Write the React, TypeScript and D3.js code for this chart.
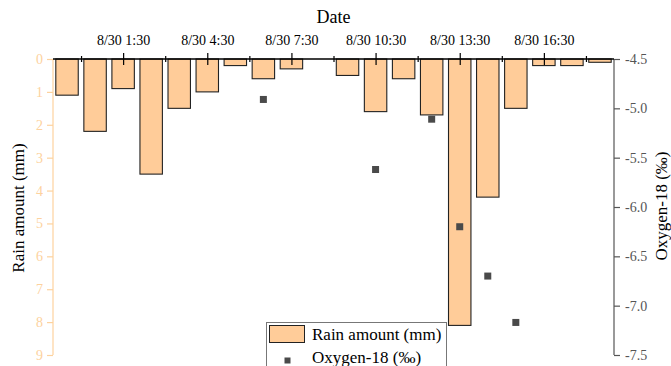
import * as React from 'react'
import {select, scaleLinear, scaleTime, axisTop, axisLeft, axisRight, timeFormat, timeParse, range} from 'd3'

const {Component, createRef} = React

// rain per hour, bars centred on the half hour
const rainTimes = [
  '8/29 23:30', '8/30 0:30', '8/30 1:30', '8/30 2:30', '8/30 3:30',
  '8/30 4:30', '8/30 5:30', '8/30 6:30', '8/30 7:30', '8/30 8:30',
  '8/30 9:30', '8/30 10:30', '8/30 11:30', '8/30 12:30', '8/30 13:30',
  '8/30 14:30', '8/30 15:30', '8/30 16:30', '8/30 17:30', '8/30 18:30',
]
const rainAmount = [1.1, 2.2, 0.9, 3.5, 1.5, 1.0, 0.2, 0.6, 0.3, 0, 0.5, 1.6, 0.6, 1.7, 8.1, 4.2, 1.5, 0.2, 0.2, 0.1]

const oxygenTimes = ['8/30 6:30', '8/30 10:30', '8/30 12:30', '8/30 13:30', '8/30 14:30', '8/30 15:30']
const oxygen18 = [-4.91, -5.62, -5.11, -6.2, -6.7, -7.17]

const xDomain = ['8/29 23:00', '8/30 19:00']
const labelTicks = ['8/30 1:30', '8/30 4:30', '8/30 7:30', '8/30 10:30', '8/30 13:30', '8/30 16:30']
const minorTicks = ['8/30 0:00', '8/30 3:00', '8/30 6:00', '8/30 9:00', '8/30 12:00', '8/30 15:00', '8/30 18:00']
const rainTicks = [0, 1, 2, 3, 4, 5, 6, 7, 8, 9]
const oxygenTicks = [-4.5, -5.0, -5.5, -6.0, -6.5, -7.0, -7.5]

const parse = (s: string) => timeParse('%Y/%m/%d %H:%M')('2000/' + s) as Date
const fmt = timeFormat('%-m/%-d %-H:%M')

const BAR = '#FFCC99'
const PALE = '#FDD29E'
const GREY = '#555555'
const FONT = '"Liberation Serif", "Times New Roman", serif'

class App extends Component {
  ref = createRef<HTMLDivElement>()

  componentDidMount() {
    const W = 671, H = 366
    const left = 53, right = 614, top = 59, bottom = 355

    const x = scaleTime().domain(xDomain.map(parse)).range([left, right])
    const yRain = scaleLinear().domain([0, 9]).range([top, bottom])
    const yOxy = scaleLinear().domain([-4.5, -7.5]).range([top, bottom])
    const slot = x(parse('8/30 1:00')) - x(parse('8/30 0:00'))
    const bw = slot * 0.8

    const bars = rainAmount.map((v, i) => ({t: parse(rainTimes[i]), v})).filter(d => d.v > 0)
    const points = oxygen18.map((v, i) => ({t: parse(oxygenTimes[i]), v}))

    const svg = select(this.ref.current)
      .append('svg')
      .attr('width', W)
      .attr('height', H)
      .style('position', 'absolute')
      .style('left', 0)
      .style('top', 0)

    // left axis (rain)
    const gl = svg.append('g').attr('transform', `translate(${left},0)`)
    gl.call(axisLeft(yRain).tickValues(range(0, 9.01, 0.5)).tickSize(3).tickFormat(() => ''))
    gl.call(axisLeft(yRain).tickValues(rainTicks).tickSize(6).tickPadding(4).tickFormat(d => String(d)))
    gl.selectAll('path, line').attr('stroke', PALE).attr('stroke-width', 1.2)
    gl.selectAll('path').attr('d', `M0,${top}V${bottom}`)
    gl.selectAll('text').attr('fill', PALE).style('font-size', '14px')

    // right axis (oxygen)
    const gr = svg.append('g').attr('transform', `translate(${right},0)`)
    gr.call(axisRight(yOxy).tickValues(range(-4.5, -7.51, -0.25)).tickSize(3).tickFormat(() => ''))
    gr.call(axisRight(yOxy).tickValues(oxygenTicks).tickSize(6).tickPadding(5).tickFormat(d => (+d).toFixed(1)))
    gr.selectAll('path, line').attr('stroke', GREY).attr('stroke-width', 1.2)
    gr.selectAll('path').attr('d', `M0,${top}V${bottom}`)
    gr.selectAll('text').attr('fill', GREY).style('font-size', '14px')

    // bars hang down from the top axis
    svg.append('g')
      .selectAll('rect')
      .data(bars)
      .join('rect')
      .attr('x', d => x(d.t) - bw / 2)
      .attr('y', yRain(0))
      .attr('width', bw)
      .attr('height', d => yRain(d.v) - yRain(0))
      .attr('fill', BAR)
      .attr('stroke', '#222')
      .attr('stroke-width', 1.1)

    // oxygen points
    svg.append('g')
      .selectAll('rect')
      .data(points)
      .join('rect')
      .attr('x', d => x(d.t) - 3.5)
      .attr('y', d => yOxy(d.v) - 3.5)
      .attr('width', 7)
      .attr('height', 7)
      .attr('fill', '#4a4a4a')

    // top axis (date)
    const gt = svg.append('g').attr('transform', `translate(0,${top})`)
    gt.call(axisTop(x).tickValues(minorTicks.map(parse)).tickSizeInner(3).tickSizeOuter(0).tickFormat(() => ''))
    gt.selectAll('.tick line').attr('y2', -3).attr('y1', 3)
    gt.select('path.domain').attr('d', `M${left},0H${right}`)
    const gt2 = svg.append('g').attr('transform', `translate(0,${top})`)
    gt2.call(axisTop(x).tickValues(labelTicks.map(parse)).tickSizeInner(6).tickSizeOuter(0).tickPadding(8).tickFormat(d => fmt(d as Date)))
    gt2.selectAll('.tick line').attr('y2', -6).attr('y1', 6)
    gt2.select('path.domain').attr('d', `M${left},0H${right}`)
    gt.selectAll('path, line').attr('stroke', '#000').attr('stroke-width', 1.2)
    gt2.selectAll('path, line').attr('stroke', '#000').attr('stroke-width', 1.2)
    gt2.selectAll('text').attr('fill', '#000').style('font-size', '14px')

    // titles
    svg.append('text')
      .attr('x', (left + right) / 2).attr('y', 23)
      .attr('text-anchor', 'middle')
      .style('font-size', '18px')
      .text('Date')

    svg.append('text')
      .attr('transform', 'translate(24,208) rotate(-90)')
      .attr('text-anchor', 'middle')
      .style('font-size', '17px')
      .text('Rain amount (mm)')

    svg.append('text')
      .attr('transform', 'translate(667,206) rotate(-90)')
      .attr('text-anchor', 'middle')
      .style('font-size', '17px')
      .text('Oxygen-18 (‰)')

    // legend
    const lg = svg.append('g')
    lg.append('rect')
      .attr('x', 266.5).attr('y', 322.5).attr('width', 180).attr('height', 60)
      .attr('fill', '#fff').attr('stroke', '#777').attr('stroke-width', 1)
    lg.append('rect')
      .attr('x', 269.5).attr('y', 325.5).attr('width', 35).attr('height', 17)
      .attr('fill', BAR).attr('stroke', '#222')
    lg.append('text').attr('x', 312).attr('y', 340).style('font-size', '17px').text('Rain amount (mm)')
    lg.append('rect')
      .attr('x', 284.5).attr('y', 357.5).attr('width', 6).attr('height', 6)
      .attr('fill', '#4a4a4a')
    lg.append('text').attr('x', 312).attr('y', 363).style('font-size', '17px').text('Oxygen-18 (‰)')

    // one serif face for every label
    svg.selectAll('text').style('font-family', FONT)
  }

  render() {
    return <div ref={this.ref} />
  }
}

export default App
